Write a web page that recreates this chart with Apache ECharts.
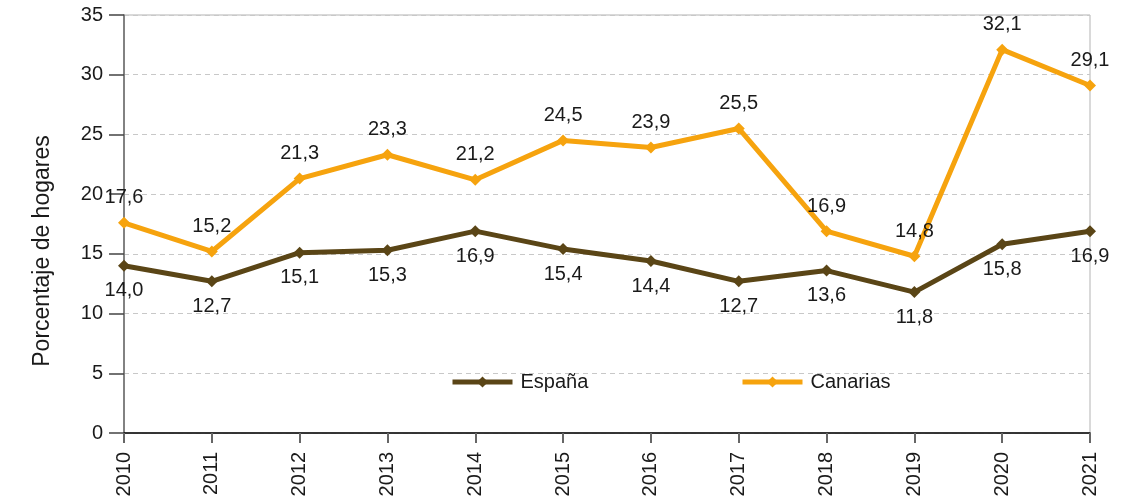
<!DOCTYPE html>
<html>
<head>
<meta charset="utf-8">
<script src="https://cdn.jsdelivr.net/npm/echarts@6/dist/echarts.min.js"></script>
<style>
  html, body { margin: 0; padding: 0; background: #fff; }
  #chart { width: 1128px; height: 503px; }
</style>
</head>
<body>
<div id="chart"></div>
<script>
// Share of households (%) by year
const years = ['2010','2011','2012','2013','2014','2015','2016','2017','2018','2019','2020','2021'];
const espana = [14.0, 12.7, 15.1, 15.3, 16.9, 15.4, 14.4, 12.7, 13.6, 11.8, 15.8, 16.9];
const canarias = [17.6, 15.2, 21.3, 23.3, 21.2, 24.5, 23.9, 25.5, 16.9, 14.8, 32.1, 29.1];

const FONT = '"Liberation Sans", Arial, sans-serif';
const TXT = '#1a1a1a';
const fmt = p => p.value.toFixed(1).replace('.', ',');

const legendBase = {
  top: 372,
  padding: 0,
  itemWidth: 60, itemHeight: 14,
  itemGap: 0,
  lineStyle: { width: 5 },
  textStyle: { fontSize: 20, color: TXT, fontFamily: FONT, padding: [0, 0, 0, 3] }
};

const chart = echarts.init(document.getElementById('chart'));
chart.setOption({
  animation: false,
  textStyle: { fontFamily: FONT },
  grid: {
    left: 124, right: 38, top: 15, bottom: 70,
    show: true, borderColor: '#b3b3b3', borderWidth: 1
  },
  legend: [
    Object.assign({ data: ['España'], left: 450 }, legendBase),
    Object.assign({ data: ['Canarias'], left: 740 }, legendBase)
  ],
  xAxis: {
    type: 'category',
    data: years,
    boundaryGap: false,
    axisLine: { lineStyle: { color: '#000', width: 1.5 } },
    axisTick: { show: true, alignWithLabel: true, length: 10, lineStyle: { color: '#666', width: 2 } },
    axisLabel: { rotate: 90, fontSize: 20, color: TXT, margin: 19, fontFamily: FONT },
    splitLine: { show: false }
  },
  yAxis: {
    type: 'value',
    min: 0, max: 35, interval: 5,
    name: 'Porcentaje de hogares',
    nameLocation: 'middle',
    nameGap: 70,
    nameTextStyle: { fontSize: 23, color: TXT, fontFamily: FONT, padding: [0, 54, 0, 0] },
    axisLine: { show: true, lineStyle: { color: '#666', width: 1.5 } },
    axisTick: { show: true, length: 15, lineStyle: { color: '#444', width: 1.5 } },
    axisLabel: { fontSize: 20, color: TXT, margin: 21, fontFamily: FONT },
    splitLine: { show: true, lineStyle: { color: '#c8c8c8', type: [5, 4], width: 1 } }
  },
  series: [
    {
      name: 'España',
      type: 'line',
      data: espana,
      color: '#5a4516',
      lineStyle: { width: 5 },
      symbol: 'diamond', symbolSize: 12,
      label: { show: true, position: 'bottom', distance: 9, fontSize: 20, color: TXT, formatter: fmt, fontFamily: FONT }
    },
    {
      name: 'Canarias',
      type: 'line',
      data: canarias,
      color: '#f6a30e',
      lineStyle: { width: 5 },
      symbol: 'diamond', symbolSize: 12,
      label: { show: true, position: 'top', distance: 9, fontSize: 20, color: TXT, formatter: fmt, fontFamily: FONT }
    }
  ]
});
</script>
</body>
</html>
